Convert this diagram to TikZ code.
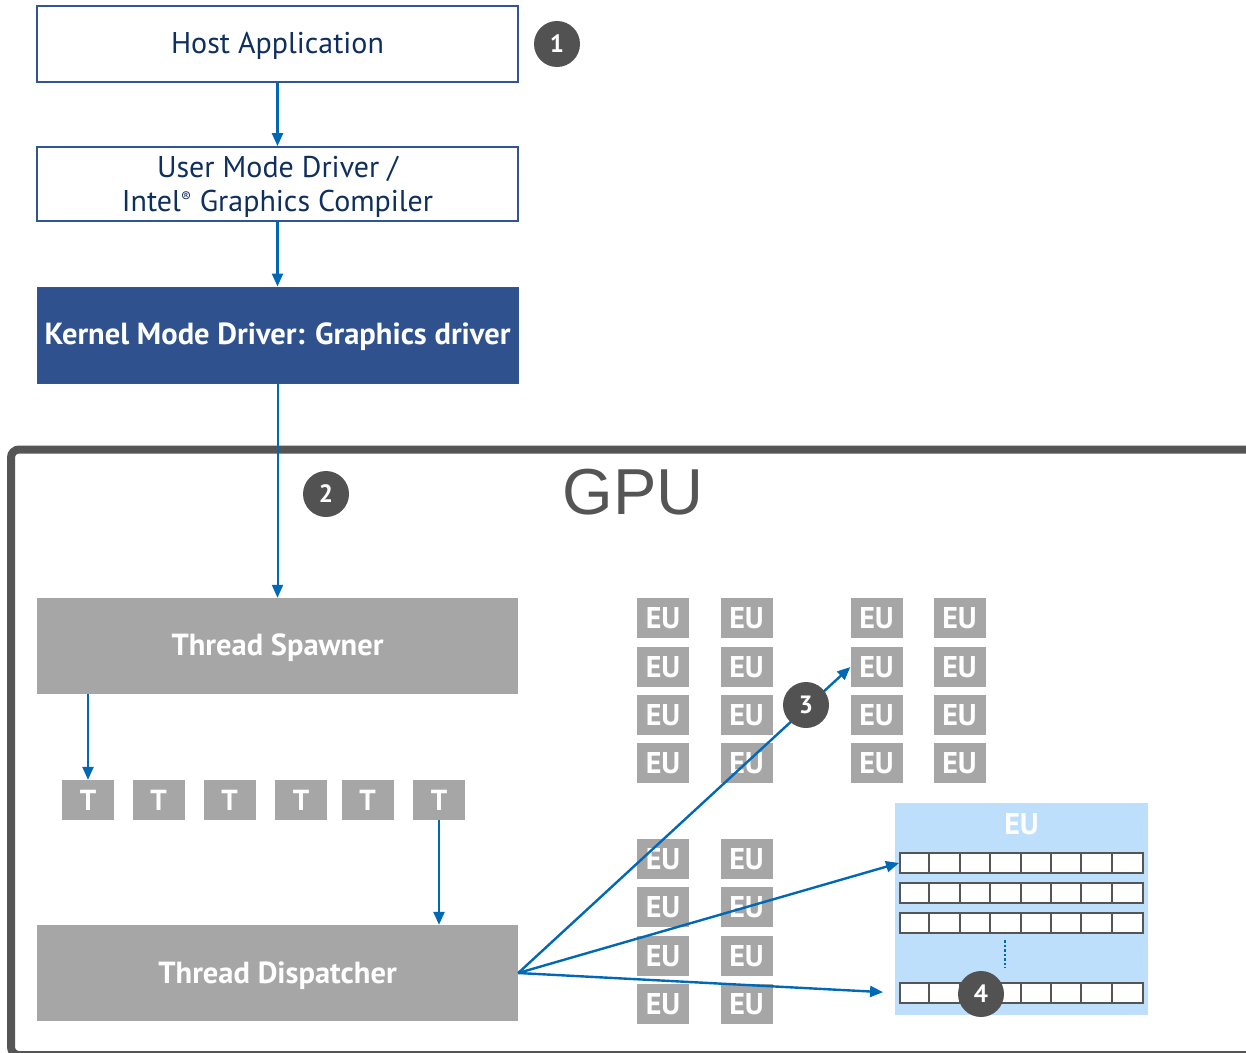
\documentclass[tikz,border=0pt]{standalone}
\usepackage{fontspec}
\setmainfont{PT Sans}
\newfontfamily\gpufont{Liberation Sans}
\usetikzlibrary{arrows.meta,calc}
\definecolor{arrowblue}{HTML}{0068B5}
\definecolor{boxborder}{HTML}{2F5597}
\definecolor{navytext}{HTML}{0F2F5F}
\definecolor{kmdblue}{HTML}{2F528F}
\definecolor{unitgrey}{HTML}{A6A6A6}
\definecolor{circgrey}{HTML}{525252}
\definecolor{gpuframe}{HTML}{555555}
\definecolor{eublue}{HTML}{BDDFFB}
\definecolor{cellgrey}{HTML}{555555}
\newcommand{\lowered}[2][2pt]{\raisebox{-#1}[\height][\depth]{#2}}
\begin{document}
\begin{tikzpicture}[x=1pt,y=-1pt,
  hostbox/.style={draw=boxborder, line width=1.8pt, fill=white, minimum width=481pt, inner sep=0pt, text=navytext, font=\fontsize{30}{34}\selectfont, align=center},
  kmdbox/.style={draw=boxborder, line width=1pt, fill=kmdblue, minimum width=481pt, minimum height=96pt, inner sep=0pt, text=white, font=\fontsize{30.5}{34}\selectfont\bfseries},
  greybox/.style={fill=unitgrey, minimum width=481pt, minimum height=96pt, inner sep=0pt, text=white, font=\fontsize{30.5}{34}\selectfont\bfseries},
  tbox/.style={fill=unitgrey, minimum width=52pt, minimum height=40pt, inner sep=0pt, text=white, font=\fontsize{29}{30}\selectfont\bfseries},
  eubox/.style={fill=unitgrey, minimum width=52pt, minimum height=40pt, inner sep=0pt, text=white, font=\fontsize{30}{30}\selectfont\bfseries},
  numcirc/.style={circle, fill=circgrey, minimum size=46pt, inner sep=0pt, text=white, font=\fontsize{25}{28}\selectfont\bfseries},
  regrow/.style={draw=cellgrey, line width=2pt, fill=white, minimum width=243pt, minimum height=20pt, inner sep=0pt},
  cellline/.style={draw=cellgrey, line width=2pt},
  flow/.style={draw=arrowblue, line width=2.4pt, -{Triangle[length=13pt,width=11pt]}},
]
\clip (0,0) rectangle (1246,1052);
\fill[white] (0,0) rectangle (1246,1052);

% GPU frame
\draw[gpuframe, line width=8pt, rounded corners=8pt] (11,449.5) rectangle (1300,1055);
\node[text=gpuframe, font=\gpufont\fontsize{65}{70}\selectfont, inner sep=0pt] (gpu) at (633,492) {GPU};

% software stack
\node[hostbox, minimum height=76pt] (host) at (277.5,44) {\lowered{Host Application}};
\node[hostbox, minimum height=74pt] (umd) at (277.5,184) {\lowered[3pt]{\parbox{470pt}{\centering\baselineskip=34pt User Mode Driver /\\Intel\textsuperscript{\fontsize{15}{15}\selectfont ®} Graphics Compiler}}};
\node[kmdbox] (kmd) at (277.5,335) {\lowered{Kernel Mode Driver: Graphics driver}};

% GPU blocks
\node[greybox] (spawner) at (277.5,646) {\lowered{Thread Spawner}};
\node[greybox] (disp) at (277.5,973) {\lowered[3pt]{Thread Dispatcher}};

\node[tbox] (T1) at (88,800) {T};
\node[tbox] (T2) at (158.5,800) {T};
\node[tbox] (T3) at (229.5,800) {T};
\node[tbox] (T4) at (301,800) {T};
\node[tbox] (T5) at (367.5,800) {T};
\node[tbox] (T6) at (439,800) {T};

% EU grids
\foreach \r/\y in {1/618,2/667,3/715,4/763} {
  \node[eubox] (euA\r) at (663,\y) {EU};
  \node[eubox] (euB\r) at (746.5,\y) {EU};
  \node[eubox] (euC\r) at (876.5,\y) {EU};
  \node[eubox] (euD\r) at (959.5,\y) {EU};
}
\foreach \r/\y in {1/859,2/907,3/956,4/1004} {
  \node[eubox] (euE\r) at (663,\y) {EU};
  \node[eubox] (euF\r) at (746.5,\y) {EU};
}

% detailed EU
\node[fill=eublue, minimum width=253pt, minimum height=212pt, inner sep=0pt] (eubig) at (1021.5,909) {};
\node[text=white, font=\fontsize{30}{30}\selectfont\bfseries, inner sep=0pt] (eulabel) at (1021.5,824) {EU};
\foreach \r/\y in {a/863,b/893,c/922.5,d/993} {
  \node[regrow] (row\r) at (1021.5,\y) {};
  \foreach \i in {1,...,7} \draw[cellline] ($(row\r.west)+(\i*30.375,-10)$) -- ++(0,20);
}
\coordinate (dotA) at (1005,940);
\coordinate (dotB) at (1005,968);
\draw[arrowblue, line width=2.2pt, dash pattern=on 2.5pt off 2pt] (dotA) -- (dotB);

% connectors
\draw[flow] (host) -- (umd);
\draw[flow] (umd) -- (kmd);
\draw[flow, line width=2pt] (kmd) -- (spawner);
\draw[flow] (T1 |- spawner.south) -- (T1.north);
\draw[flow] (T6.south) -- (T6 |- disp.north);
\draw[flow] (disp.east) -- (euC2.west);
\draw[flow] (disp.east) -- (rowa.west);
\draw[flow, shorten >=16pt] (disp.east) -- (rowd.west);

% step numbers
\node[numcirc] (c1) at (557,44) {1};
\node[numcirc] (c2) at (326,494) {2};
\node[numcirc] (c3) at (806,705) {3};
\node[numcirc] (c4) at (981,994) {4};
\end{tikzpicture}
\end{document}
